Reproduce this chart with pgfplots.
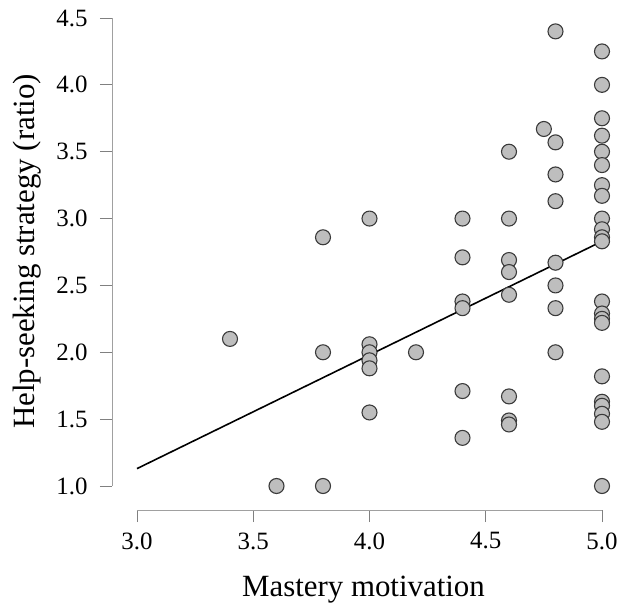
\documentclass[border=0pt]{standalone}
\usepackage{pgfplots}
\pgfplotsset{compat=1.18}
\usepackage{fontspec}
\setmainfont{Liberation Serif}
\definecolor{ptfill}{HTML}{BEBEBE}
\definecolor{ptdraw}{HTML}{3A3A3A}
\definecolor{axgray}{HTML}{A0A0A0}
\begin{document}
\begin{tikzpicture}
\useasboundingbox (-112bp,-96bp) rectangle (509bp,510bp);
\begin{axis}[
  at={(0,0)}, anchor=origin,
  scale only axis,
  width=503bp, height=502bp,
  xmin=2.8925, xmax=5.0559,
  ymin=0.8205, ymax=4.5748,
  axis x line*=bottom, axis y line*=left,
  axis line style={draw=none},
  clip=false,
  xtick={3,3.5,4,4.5,5},
  ytick={1,1.5,2,2.5,3,3.5,4,4.5},
  tick align=outside,
  major tick length=12bp,
  tick style={color=axgray!80!black, line width=0.8pt},
  /pgf/number format/assume math mode=true,
  /pgf/number format/fixed, /pgf/number format/fixed zerofill,
  /pgf/number format/precision=1,
  tick label style={font=\fontsize{25}{25}\selectfont},
  xticklabel style={yshift=-7bp},
  yticklabel style={xshift=-9bp},
  xlabel={Mastery motivation},
  ylabel={Help-seeking strategy (ratio)},
  label style={font=\fontsize{31}{31}\selectfont},
  xlabel style={at={(axis description cs:0.5,0)}, anchor=center, yshift=-80bp},
  ylabel style={at={(axis description cs:-0.169,0.515)}, anchor=center},
]
\draw[axgray, line width=0.8pt] (axis cs:3,0.8205) -- (axis cs:5,0.8205);
\draw[axgray, line width=0.8pt] (axis cs:2.8925,1) -- (axis cs:2.8925,4.5);
\addplot[black, line width=1.6pt] coordinates {(3.0,1.13) (5.0,2.83)};
\addplot[only marks, mark=*, mark size=7.5bp,
  mark options={fill=ptfill, draw=ptdraw, line width=1.1pt}] coordinates {
(3.4,2.10)
(3.6,1.00)
(3.8,1.00) (3.8,2.00) (3.8,2.86)
(4.0,3.00) (4.0,2.06) (4.0,2.00) (4.0,1.94) (4.0,1.88) (4.0,1.55)
(4.2,2.00)
(4.4,3.00) (4.4,2.71) (4.4,2.38) (4.4,2.33) (4.4,1.71) (4.4,1.36)
(4.6,3.50) (4.6,3.00) (4.6,2.69) (4.6,2.60) (4.6,2.43) (4.6,1.67) (4.6,1.49) (4.6,1.46)
(4.75,3.67)
(4.8,4.40) (4.8,3.57) (4.8,3.33) (4.8,3.13) (4.8,2.67) (4.8,2.50) (4.8,2.33) (4.8,2.00)
(5.0,4.25) (5.0,4.00) (5.0,3.75) (5.0,3.62) (5.0,3.50) (5.0,3.40) (5.0,3.25) (5.0,3.17)
(5.0,3.00) (5.0,2.92) (5.0,2.86) (5.0,2.83) (5.0,2.38) (5.0,2.29) (5.0,2.25) (5.0,2.22)
(5.0,1.82) (5.0,1.63) (5.0,1.60) (5.0,1.54) (5.0,1.48) (5.0,1.00)
};
\end{axis}
\end{tikzpicture}
\end{document}
